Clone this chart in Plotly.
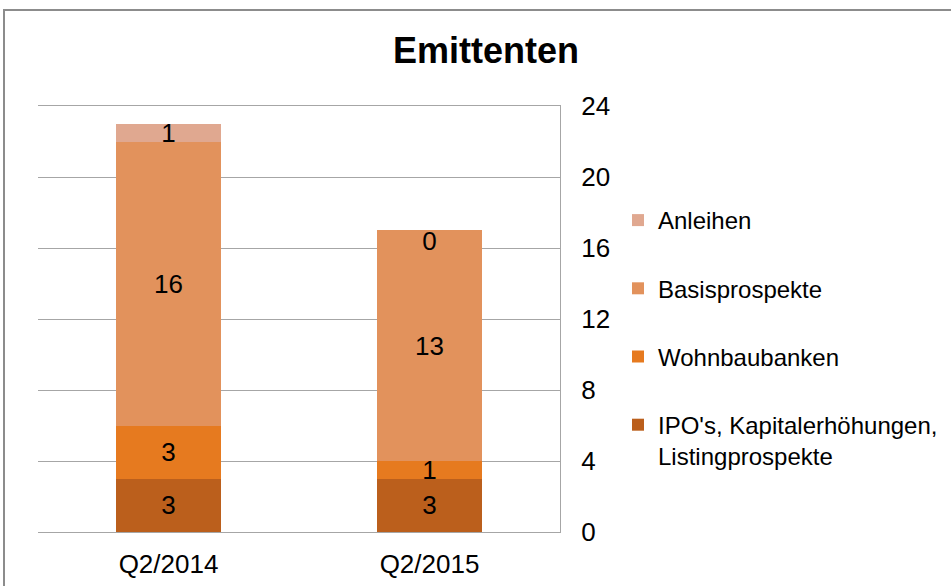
import plotly.graph_objects as go

categories = ["Q2/2014", "Q2/2015"]
series_names = ["IPO's, Kapitalerhöhungen,<br>Listingprospekte", "Wohnbaubanken", "Basisprospekte", "Anleihen"]
ipo = [3, 3]
wohnbau = [3, 1]
basis = [16, 13]
anleihen = [1, 0]
y_ticks = [0, 4, 8, 12, 16, 20, 24]

colors = ["#bb5f1c", "#e67a1f", "#e2925c", "#e0a890"]
values = [ipo, wohnbau, basis, anleihen]

FONT = "Arial, Liberation Sans, sans-serif"

fig = go.Figure()
for i, (name, vals, col) in enumerate(zip(series_names, values, colors)):
    fig.add_trace(go.Bar(
        x=categories, y=vals, name=name,
        marker=dict(color=col, line=dict(width=0)),
        text=[str(v) if v != 0 else "" for v in vals],
        textposition="inside",
        insidetextanchor="middle",
        textangle=0,
        constraintext="none",
        insidetextfont=dict(family=FONT, size=26, color="black"),
        legendgroup="g%d" % i,
        legendrank=len(series_names) - i,
        width=0.4,
    ))

# labels for zero-height segments (drawn at the top of the stack)
cum = [0] * len(categories)
zx, zy, zt = [], [], []
for vals in values:
    for j, v in enumerate(vals):
        cum[j] += v
        if v == 0:
            zx.append(categories[j]); zy.append(cum[j]); zt.append("0")
fig.add_trace(go.Scatter(x=zx, y=zy, text=zt, mode="text", textposition="bottom center",
                         textfont=dict(family=FONT, size=26, color="black"),
                         showlegend=False, hoverinfo="skip"))

fig.update_layout(
    width=951, height=586,
    barmode="stack",
    paper_bgcolor="white", plot_bgcolor="white",
    margin=dict(l=38, r=391, t=106, b=54, autoexpand=False),
    font=dict(family=FONT, color="black"),
    uniformtext=dict(minsize=26, mode="show"),
    title=dict(text="<b>Emittenten</b>", x=486/951, xref="container", xanchor="center",
               y=1-50/586, yref="container", yanchor="middle",
               font=dict(family=FONT, size=36, color="black")),
    legend=dict(x=(618-38)/522, xanchor="left", y=(532-198)/426, yanchor="top",
                traceorder="grouped", tracegroupgap=34,
                bgcolor="rgba(0,0,0,0)",
                font=dict(family=FONT, size=24, color="black"),
                itemclick=False, valign="top"),
    showlegend=True,
    bargap=0.6,
)
fig.update_xaxes(showgrid=False, showline=True, mirror=True, linecolor="#a6a6a6", linewidth=1,
                 automargin=False,
                 ticks="", tickfont=dict(size=26, color="black"), ticklabelstandoff=9)
fig.update_yaxes(side="right", range=[0, 24], tickvals=y_ticks, showgrid=True, gridcolor="#a6a6a6",
                 gridwidth=1, showline=True, linecolor="#a6a6a6", linewidth=1, zeroline=False,
                 automargin=False,
                 ticks="", tickfont=dict(size=26, color="black"), ticklabelstandoff=15)

fig.add_shape(type="rect", xref="paper", yref="paper",
              x0=(4-38)/522, x1=(960-38)/522, y0=(532-600)/426, y1=(532-10)/426,
              line=dict(color="#8c8c8c", width=2), fillcolor="rgba(0,0,0,0)", layer="below")

fig.write_html("out.html", config={"displayModeBar": False},
               post_script="document.body.style.margin='0px';")
